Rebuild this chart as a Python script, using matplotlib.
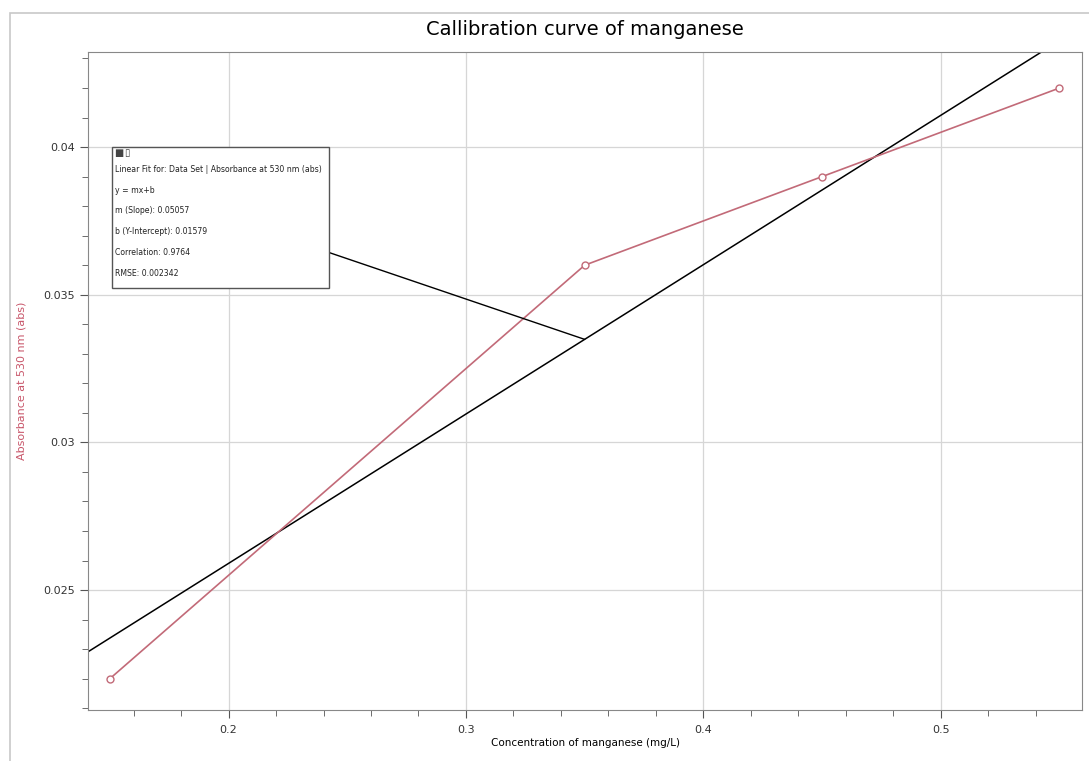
import numpy as np
import matplotlib
matplotlib.use("Agg")
import matplotlib.pyplot as plt
from matplotlib.patches import Rectangle

# donnees
conc = [0.15, 0.35, 0.45, 0.55]
absorb = [0.022, 0.036, 0.039, 0.042]
slope = 0.05057
intercept = 0.01579
fit_text = ["Linear Fit for: Data Set | Absorbance at 530 nm (abs)",
            "y = mx+b",
            "m (Slope): 0.05057",
            "b (Y-Intercept): 0.01579",
            "Correlation: 0.9764",
            "RMSE: 0.002342"]

xmin, xmax = 0.1408, 0.5595
ymin, ymax = 0.02094, 0.04322

fig = plt.figure(figsize=(10.89, 7.61), dpi=100)
fig.patches.append(Rectangle((0.009, -0.01), 1.0, 0.993, transform=fig.transFigure,
                             fill=False, edgecolor='#c8c8c8', lw=1.2))
ax = fig.add_axes([0.0808, 0.067, 0.9128, 0.8647])

xf = np.array([xmin, xmax])
ax.plot(xf, slope*xf + intercept, color='black', lw=1.1)
ax.plot(conc, absorb, color='#c26a78', lw=1.2, marker='o', ms=5,
        mfc='white', mec='#c26a78', mew=1.0)

ax.set_xlim(xmin, xmax)
ax.set_ylim(ymin, ymax)
ax.set_xticks([0.2, 0.3, 0.4, 0.5])
ax.set_xticks(np.arange(0.16, 0.56, 0.02), minor=True)
ax.set_yticks([0.025, 0.03, 0.035, 0.04])
ax.set_yticklabels(["0.025", "0.03", "0.035", "0.04"])
ax.set_xticklabels(["0.2", "0.3", "0.4", "0.5"])
ax.set_yticks(np.arange(0.021, 0.0435, 0.001), minor=True)
ax.grid(True, which='major', color='#d6d6d6', lw=0.9)
ax.tick_params(which='both', direction='out', colors='#555555', labelcolor='#333333',
               labelsize=8)
ax.tick_params(which='major', length=6)
ax.tick_params(which='minor', length=4)
ax.tick_params(axis='x', pad=5)
for s in ax.spines.values():
    s.set_color('#888888')

ax.set_title("Callibration curve of manganese", fontsize=14, pad=12)
ax.set_xlabel("Concentration of manganese (mg/L)", fontsize=7.5, labelpad=2)
ax.set_ylabel("Absorbance at 530 nm (abs)", fontsize=8, color='#c8566a', labelpad=12)

# boite du fit lineaire
box = Rectangle((0.024, 0.642), 0.218, 0.214, transform=ax.transAxes,
                facecolor='white', edgecolor='#555555', lw=1.0, zorder=4)
ax.add_patch(box)
xl = 0.35
ax.annotate("", xy=(xl, slope*xl + intercept), xytext=(0.2416, 0.03645),
            arrowprops=dict(arrowstyle='-', color='black', lw=1.0,
                            shrinkA=0, shrinkB=0), zorder=3)
for i, t in enumerate(fit_text):
    ax.text(0.027, 0.822 - i*0.0318, t, transform=ax.transAxes, fontsize=5.6,
            color='#222222', zorder=5, va='center')
ax.text(0.026, 0.846, "■", transform=ax.transAxes, fontsize=7, color='#444444', zorder=5, va='center')
ax.text(0.036, 0.846, "▯", transform=ax.transAxes, fontsize=7, color='#444444', zorder=5, va='center')

plt.savefig("out.png", dpi=100)
